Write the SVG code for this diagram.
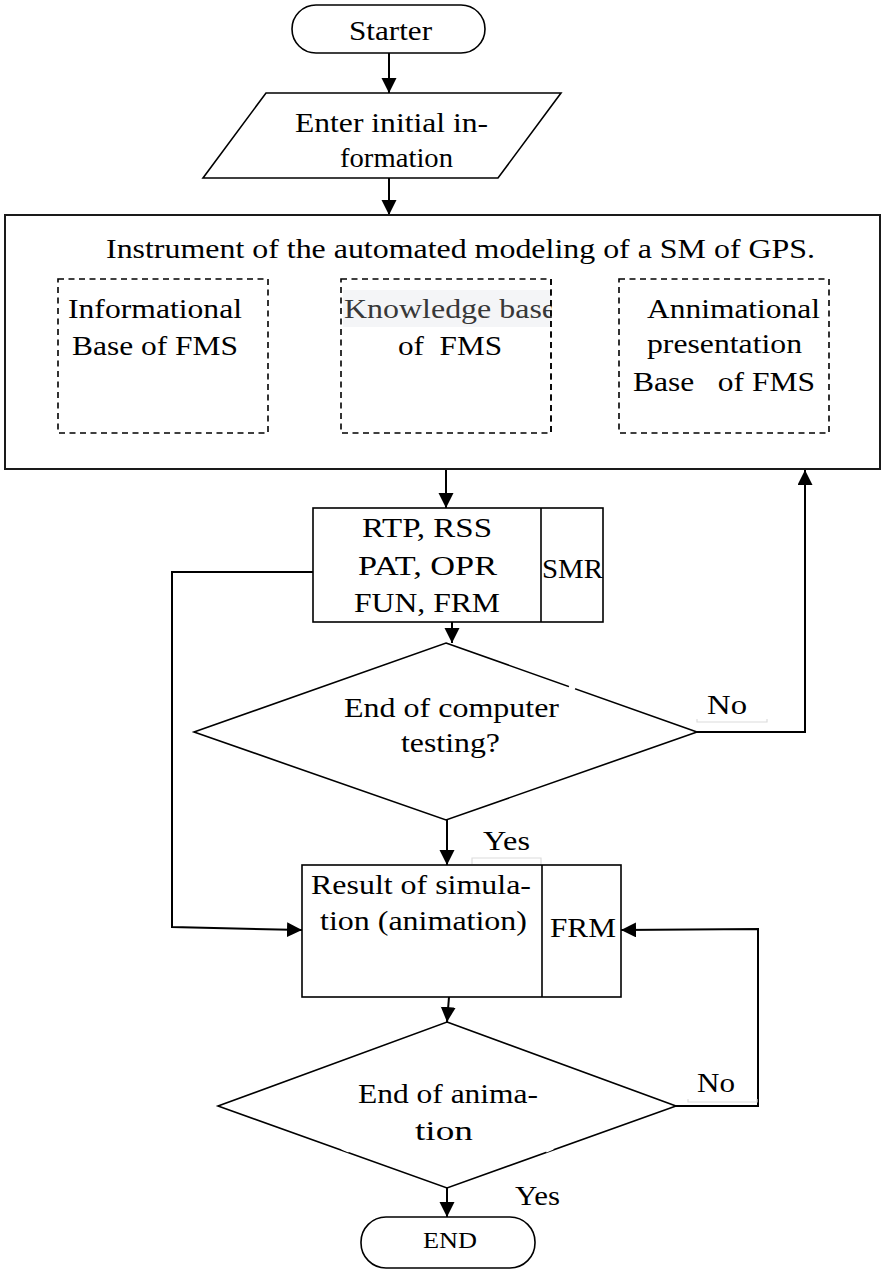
<svg xmlns="http://www.w3.org/2000/svg" width="881" height="1269" viewBox="0 0 881 1269">
<style>
  text { font-family: "Liberation Serif", "Times New Roman", serif; font-size: 28px; fill: #000; white-space: pre; }
  .sh { fill: #fff; stroke: #000; stroke-width: 1.6; }
  .box { fill: #fff; stroke: #1a1a1a; stroke-width: 2; }
  .dash { fill: none; stroke: #000; stroke-width: 1.6; stroke-dasharray: 6 4.5; }
  .ln { fill: none; stroke: #000; stroke-width: 2; }
  .faint { fill: none; stroke: #dcdcdc; stroke-width: 1.2; }
</style>
<defs>
  <marker id="ah" markerUnits="userSpaceOnUse" markerWidth="16" markerHeight="16" refX="15" refY="7.5" orient="auto">
    <path d="M0,0 L15,7.5 L0,15 z" fill="#000"/>
  </marker>
</defs>
<rect width="881" height="1269" fill="#fff"/>

<g id="connectors">
  <line class="ln" x1="389" y1="53" x2="389" y2="93" marker-end="url(#ah)"/>
  <line class="ln" x1="389" y1="178" x2="389" y2="215" marker-end="url(#ah)"/>
  <line class="ln" x1="446" y1="469" x2="446" y2="508" marker-end="url(#ah)"/>
  <line class="ln" x1="452" y1="622" x2="452" y2="643" marker-end="url(#ah)"/>
  <polyline class="ln" points="697,732 805,732 805,470" marker-end="url(#ah)"/>
  <polyline class="ln" points="313,572 172,572 172,927 302,930" marker-end="url(#ah)"/>
  <line class="ln" x1="447" y1="820" x2="447" y2="865" marker-end="url(#ah)"/>
  <polyline class="ln" points="676,1106 758,1106 758,929 621,930" marker-end="url(#ah)"/>
  <line class="ln" x1="449" y1="997" x2="447" y2="1022" marker-end="url(#ah)"/>
  <line class="ln" x1="447" y1="1188" x2="447" y2="1217" marker-end="url(#ah)"/>
</g>

<g id="starter">
  <rect class="sh" x="292" y="5" width="193" height="48" rx="24" ry="24"/>
  <text x="349" y="40" textLength="83" lengthAdjust="spacingAndGlyphs">Starter</text>
</g>

<g id="input">
  <polygon class="sh" points="266,93 561,93 498,178 203,178"/>
  <text x="295" y="132" textLength="193" lengthAdjust="spacingAndGlyphs">Enter initial in-</text>
  <text x="340" y="167" textLength="113" lengthAdjust="spacingAndGlyphs">formation</text>
</g>

<g id="instrument">
  <rect class="box" x="5" y="215" width="875" height="254"/>
  <text x="106" y="258" textLength="709" lengthAdjust="spacingAndGlyphs">Instrument of the automated modeling of a SM of GPS.</text>
  <g id="info-base">
    <rect class="dash" x="58" y="279" width="210" height="154"/>
    <text x="68" y="318" textLength="174" lengthAdjust="spacingAndGlyphs">Informational</text>
    <text x="72" y="355" textLength="166" lengthAdjust="spacingAndGlyphs">Base of FMS</text>
  </g>
  <g id="knowledge-base">
    <rect x="343" y="290" width="208" height="37" fill="#f4f5f7"/>
    <rect class="dash" x="341" y="279" width="210" height="154"/>
    <text x="344" y="318" textLength="212" lengthAdjust="spacingAndGlyphs" style="fill:#383838">Knowledge base</text>
    <rect x="551.8" y="290" width="8" height="37" fill="#fff"/>
    <line x1="551" y1="279" x2="551" y2="433" class="dash"/>
    <text x="398" y="355" textLength="104" lengthAdjust="spacingAndGlyphs">of  FMS</text>
  </g>
  <g id="anim-base">
    <rect class="dash" x="619" y="279" width="210" height="154"/>
    <text x="647" y="318" textLength="173" lengthAdjust="spacingAndGlyphs">Annimational</text>
    <text x="647" y="353" textLength="155" lengthAdjust="spacingAndGlyphs">presentation</text>
    <text x="633" y="391" textLength="182" lengthAdjust="spacingAndGlyphs">Base   of FMS</text>
  </g>
</g>

<g id="smr-block">
  <rect class="sh" x="313" y="508" width="290" height="114"/>
  <line x1="541" y1="508" x2="541" y2="622" stroke="#000" stroke-width="1.6"/>
  <text x="362" y="537" textLength="130" lengthAdjust="spacingAndGlyphs">RTP, RSS</text>
  <text x="358" y="575" textLength="139" lengthAdjust="spacingAndGlyphs">PAT, OPR</text>
  <text x="354" y="612" textLength="146" lengthAdjust="spacingAndGlyphs">FUN, FRM</text>
  <text x="542" y="578" textLength="61" lengthAdjust="spacingAndGlyphs">SMR</text>
</g>

<g id="decision-testing">
  <polygon class="sh" points="446,643 697,732 446,820 194,732"/>
  <line x1="569" y1="686.5" x2="575" y2="689" stroke="#fff" stroke-width="3"/>
  <text x="344" y="717" textLength="215" lengthAdjust="spacingAndGlyphs">End of computer</text>
  <text x="401" y="752" textLength="99" lengthAdjust="spacingAndGlyphs">testing?</text>
  <text x="707" y="714" textLength="40" lengthAdjust="spacingAndGlyphs">No</text>
  <polyline class="faint" points="697,719 697,722 767,722 767,719"/>
  <text x="483" y="850" textLength="47" lengthAdjust="spacingAndGlyphs">Yes</text>
  <polyline class="faint" points="472,864 472,858 541,858 541,864"/>
</g>

<g id="result">
  <rect class="sh" x="302" y="865" width="319" height="132"/>
  <line x1="542" y1="865" x2="542" y2="997" stroke="#000" stroke-width="1.6"/>
  <text x="311" y="894" textLength="220" lengthAdjust="spacingAndGlyphs">Result of simula-</text>
  <text x="320" y="930" textLength="207" lengthAdjust="spacingAndGlyphs">tion (animation)</text>
  <text x="550" y="937" textLength="66" lengthAdjust="spacingAndGlyphs">FRM</text>
</g>

<g id="decision-animation">
  <polygon class="sh" points="447,1022 676,1106 447,1188 218,1106"/>
  <line x1="342" y1="1148" x2="349" y2="1151" stroke="#fff" stroke-width="3"/>
  <line x1="546" y1="1151" x2="553" y2="1148" stroke="#fff" stroke-width="3"/>
  <text x="358" y="1103" textLength="180" lengthAdjust="spacingAndGlyphs">End of anima-</text>
  <text x="415" y="1140" textLength="58" lengthAdjust="spacingAndGlyphs">tion</text>
  <text x="697" y="1092" textLength="38" lengthAdjust="spacingAndGlyphs">No</text>
  <polyline class="faint" points="688,1099 688,1102 757,1102 757,1099"/>
  <text x="515" y="1205" textLength="45" lengthAdjust="spacingAndGlyphs">Yes</text>
</g>

<g id="end">
  <rect class="sh" x="361" y="1217" width="174" height="51" rx="25" ry="25"/>
  <text x="423" y="1248" textLength="54" lengthAdjust="spacingAndGlyphs" style="font-size:23px">END</text>
</g>
</svg>
